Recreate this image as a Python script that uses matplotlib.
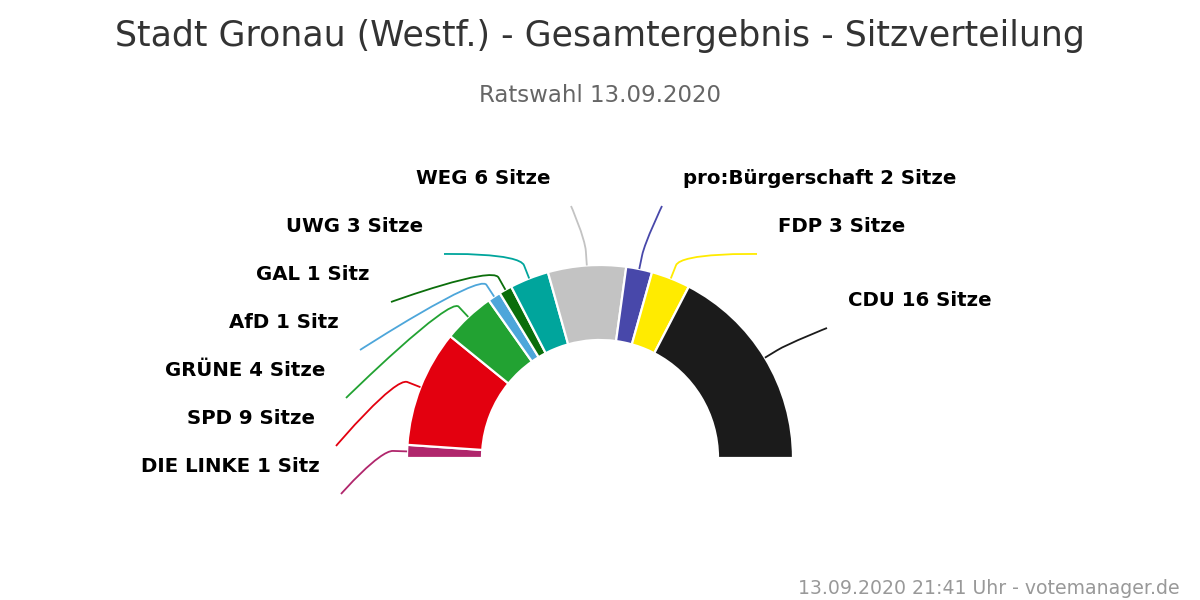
import matplotlib
matplotlib.use("Agg")
import matplotlib.pyplot as plt
from matplotlib.patches import Wedge, PathPatch
from matplotlib.path import Path
import numpy as np

# ---- data ----
parties = ["DIE LINKE", "SPD", "GRÜNE", "AfD", "GAL", "UWG", "WEG",
           "pro:Bürgerschaft", "FDP", "CDU"]
seats = [1, 9, 4, 1, 1, 3, 6, 2, 3, 16]
colors = ["#b0266c", "#e3000f", "#22a232", "#4da6da", "#0b6e0b", "#00a59c",
          "#c3c3c3", "#4848aa", "#ffeb00", "#1b1b1b"]
title = "Stadt Gronau (Westf.) - Gesamtergebnis - Sitzverteilung"
subtitle = "Ratswahl 13.09.2020"
credit = "13.09.2020 21:41 Uhr - votemanager.de"

# ---- layout (pixel space) ----
W, H = 1200, 600
cx, cy = 600, 458
r_out, r_in = 193, 118
# label anchor: (x, y, ha) -- x is the text edge next to the connector
label_pos = [(320, 466, "right"), (315, 418, "right"), (325, 370, "right"),
             (339, 322, "right"), (370, 274, "right"), (423, 226, "right"),
             (550, 178, "right"), (683, 178, "left"), (778, 226, "left"),
             (848, 300, "left")]

fig = plt.figure(figsize=(W / 100, H / 100), dpi=100)
ax = fig.add_axes([0, 0, 1, 1])
ax.set_xlim(0, W)
ax.set_ylim(H, 0)
ax.axis("off")

total = sum(seats)
cum = np.concatenate([[0], np.cumsum(seats)])
for i, (p, s, c) in enumerate(zip(parties, seats, colors)):
    a1 = 180 + cum[i] / total * 180
    a2 = 180 + cum[i + 1] / total * 180
    ax.add_patch(Wedge((cx, cy), r_out, a1, a2, width=r_out - r_in,
                       facecolor=c, edgecolor="white", linewidth=1.6))
    mid = np.deg2rad((a1 + a2) / 2)
    d = np.array([np.cos(mid), np.sin(mid)])
    A = np.array([cx, cy]) + d * r_out
    B = A + d * 14
    C2 = B + d * 14
    lx, ly, ha = label_pos[i]
    ex = lx + (21 if ha == "right" else -21)
    E = np.array([ex, ly + 28])
    verts = [tuple(E), tuple(E), tuple(C2), tuple(B), tuple(A)]
    codes = [Path.MOVETO, Path.CURVE4, Path.CURVE4, Path.CURVE4, Path.LINETO]
    ax.add_patch(PathPatch(Path(verts, codes), facecolor="none",
                           edgecolor=c, linewidth=1.3))
    lab = f"{p} {s} Sitz" + ("e" if s > 1 else "")
    ax.text(lx, ly + 1, lab, ha=ha, va="center", fontsize=14.2,
            fontweight="bold", color="black", family="DejaVu Sans")

ax.text(600, 36, title, ha="center", va="center", fontsize=25,
        color="#333333", family="DejaVu Sans")
ax.text(600, 96, subtitle, ha="center", va="center", fontsize=16.5,
        color="#666666", family="DejaVu Sans")
ax.text(1180, 589, credit, ha="right", va="center", fontsize=13.6,
        color="#999999", family="DejaVu Sans")

fig.savefig("out.png", dpi=100, facecolor="white")
